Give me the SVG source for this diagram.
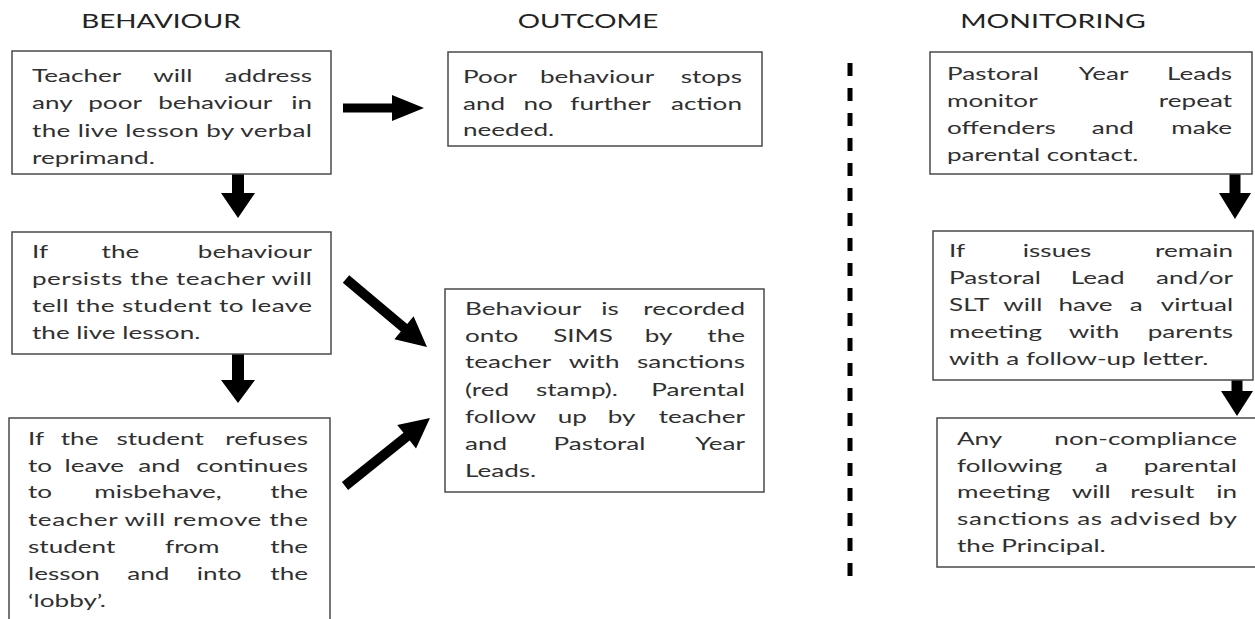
<svg xmlns="http://www.w3.org/2000/svg" width="1255" height="619" viewBox="0 0 1255 619">
<style>
.bg{fill:#ffffff}
.box{fill:#ffffff;stroke:#4a4a4a;stroke-width:1.5}
.t{font-family:Lato,"Open Sans","Liberation Sans",sans-serif;font-size:18px;fill:#303030}
.h{font-family:Lato,"Open Sans","Liberation Sans",sans-serif;font-size:19px;fill:#222222;text-anchor:middle}
.e{text-anchor:end}
.arrow{fill:#000000;stroke:none}
.dash{stroke:#000000;stroke-width:5;stroke-dasharray:13 12;fill:none}
</style>
<rect class="bg" x="0" y="0" width="1255" height="619"/>
<g id="headers">
<text class="h" transform="matrix(1.45 0 0 1 161 28)" x="0" textLength="110" lengthAdjust="spacingAndGlyphs">BEHAVIOUR</text>
<text class="h" transform="matrix(1.45 0 0 1 588 28)" x="0" textLength="97" lengthAdjust="spacingAndGlyphs">OUTCOME</text>
<text class="h" transform="matrix(1.45 0 0 1 1053 28)" x="0" textLength="128" lengthAdjust="spacingAndGlyphs">MONITORING</text>
</g>
<g id="connectors">
<polygon class="arrow" points="343,103.5 392,103.5 392,95 424,108 392,121 392,112.5 343,112.5"/>
<polygon class="arrow" points="232,157 244,157 244,193 255,193 238,218 221,193 232,193"/>
<polygon class="arrow" points="232,342 244,342 244,380 255,380 238,403 221,380 232,380"/>
<polygon class="arrow" points="349.2,275.2 407.2,323.9 413.6,316.2 427,347 394.4,339.2 400.8,331.5 342.8,282.8"/>
<polygon class="arrow" points="348.1,489.9 409.7,440.6 416,448.4 430,418 397.2,425 403.5,432.8 341.9,482.1"/>
<polygon class="arrow" points="1229.5,157 1240.5,157 1240.5,193 1251,193 1235,219 1219,193 1229.5,193"/>
<polygon class="arrow" points="1231.5,355 1242.5,355 1242.5,391 1253,391 1237,416 1221,391 1231.5,391"/>
<line class="dash" x1="850" y1="63" x2="850" y2="580"/>
</g>
<g id="node-b1">
<rect class="box" x="12" y="51" width="319" height="123"/>
<g class="t" transform="matrix(1.45 0 0 1 32 0)">
<text y="82"><tspan x="0">Teacher</tspan><tspan x="83.7">will</tspan><tspan class="e" x="193.1">address</tspan></text>
<text y="109.5"><tspan x="0">any</tspan><tspan x="38.8">poor</tspan><tspan x="87">behaviour</tspan><tspan class="e" x="193.1">in</tspan></text>
<text x="0" y="137" textLength="193.1" lengthAdjust="spacing">the live lesson by verbal</text>
<text x="0" y="164">reprimand.</text>
</g>
</g>
<g id="node-b2">
<rect class="box" x="12" y="232" width="319" height="122"/>
<g class="t" transform="matrix(1.45 0 0 1 32 0)">
<text y="258"><tspan x="0">If</tspan><tspan x="48">the</tspan><tspan class="e" x="193.1">behaviour</tspan></text>
<text x="0" y="285" textLength="193.1" lengthAdjust="spacing">persists the teacher will</text>
<text x="0" y="312.5" textLength="193.1" lengthAdjust="spacing">tell the student to leave</text>
<text x="0" y="339.5">the live lesson.</text>
</g>
</g>
<g id="node-b3">
<rect class="box" x="9" y="418" width="321" height="215"/>
<g class="t" transform="matrix(1.45 0 0 1 28 0)">
<text y="445"><tspan x="0">If</tspan><tspan x="22.6">the</tspan><tspan x="61">student</tspan><tspan class="e" x="193.1">refuses</tspan></text>
<text y="472"><tspan x="0">to</tspan><tspan x="25.2">leave</tspan><tspan x="76">and</tspan><tspan class="e" x="193.1">continues</tspan></text>
<text y="498.5"><tspan x="0">to</tspan><tspan x="45.7">misbehave,</tspan><tspan class="e" x="193.1">the</tspan></text>
<text x="0" y="526" textLength="193.1" lengthAdjust="spacing">teacher will remove the</text>
<text y="553"><tspan x="0">student</tspan><tspan x="94.5">from</tspan><tspan class="e" x="193.1">the</tspan></text>
<text y="580"><tspan x="0">lesson</tspan><tspan x="68.4">and</tspan><tspan x="116.4">into</tspan><tspan class="e" x="193.1">the</tspan></text>
<text x="0" y="607">‘lobby’.</text>
</g>
</g>
<g id="node-o1">
<rect class="box" x="448" y="52" width="314" height="94"/>
<g class="t" transform="matrix(1.45 0 0 1 463 0)">
<text y="83"><tspan x="0">Poor</tspan><tspan x="53.1">behaviour</tspan><tspan class="e" x="192.4">stops</tspan></text>
<text y="110"><tspan x="0">and</tspan><tspan x="41.7">no</tspan><tspan x="74">further</tspan><tspan class="e" x="192.4">action</tspan></text>
<text x="0" y="136">needed.</text>
</g>
</g>
<g id="node-o2">
<rect class="box" x="445" y="289" width="319" height="203"/>
<g class="t" transform="matrix(1.45 0 0 1 465 0)">
<text y="315"><tspan x="0">Behaviour</tspan><tspan x="94">is</tspan><tspan class="e" x="193.1">recorded</tspan></text>
<text y="342"><tspan x="0">onto</tspan><tspan x="60.8">SIMS</tspan><tspan x="123.9">by</tspan><tspan class="e" x="193.1">the</tspan></text>
<text y="368.5"><tspan x="0">teacher</tspan><tspan x="71.6">with</tspan><tspan class="e" x="193.1">sanctions</tspan></text>
<text y="396"><tspan x="0">(red</tspan><tspan x="48.9">stamp).</tspan><tspan class="e" x="193.1">Parental</tspan></text>
<text y="423"><tspan x="0">follow</tspan><tspan x="63.9">up</tspan><tspan x="98.5">by</tspan><tspan class="e" x="193.1">teacher</tspan></text>
<text y="450"><tspan x="0">and</tspan><tspan x="61">Pastoral</tspan><tspan class="e" x="193.1">Year</tspan></text>
<text x="0" y="477">Leads.</text>
</g>
</g>
<g id="node-m1">
<rect class="box" x="930" y="52" width="322" height="122"/>
<g class="t" transform="matrix(1.45 0 0 1 947 0)">
<text y="80"><tspan x="0">Pastoral</tspan><tspan x="90.9">Year</tspan><tspan class="e" x="196.6">Leads</tspan></text>
<text y="107"><tspan x="0">monitor</tspan><tspan class="e" x="196.6">repeat</tspan></text>
<text y="134"><tspan x="0">offenders</tspan><tspan x="99.9">and</tspan><tspan class="e" x="196.6">make</tspan></text>
<text x="0" y="161">parental contact.</text>
</g>
</g>
<g id="node-m2">
<rect class="box" x="933" y="231" width="320" height="149"/>
<g class="t" transform="matrix(1.45 0 0 1 949 0)">
<text y="257"><tspan x="0">If</tspan><tspan x="50.9">issues</tspan><tspan class="e" x="195.9">remain</tspan></text>
<text y="284"><tspan x="0">Pastoral</tspan><tspan x="84">Lead</tspan><tspan class="e" x="195.9">and/or</tspan></text>
<text y="311"><tspan x="0">SLT</tspan><tspan x="37.4">will</tspan><tspan x="75.5">have</tspan><tspan x="124.6">a</tspan><tspan class="e" x="195.9">virtual</tspan></text>
<text y="338"><tspan x="0">meeting</tspan><tspan x="82.6">with</tspan><tspan class="e" x="195.9">parents</tspan></text>
<text x="0" y="365">with a follow-up letter.</text>
</g>
</g>
<g id="node-m3">
<rect class="box" x="937" y="418" width="322" height="149"/>
<g class="t" transform="matrix(1.45 0 0 1 957 0)">
<text y="445"><tspan x="0">Any</tspan><tspan class="e" x="193.1">non-compliance</tspan></text>
<text y="472"><tspan x="0">following</tspan><tspan x="95.2">a</tspan><tspan class="e" x="193.1">parental</tspan></text>
<text y="498.5"><tspan x="0">meeting</tspan><tspan x="79.1">will</tspan><tspan x="119.5">result</tspan><tspan class="e" x="193.1">in</tspan></text>
<text x="0" y="525" textLength="193.1" lengthAdjust="spacing">sanctions as advised by</text>
<text x="0" y="552">the Principal.</text>
</g>
</g>
</svg>
